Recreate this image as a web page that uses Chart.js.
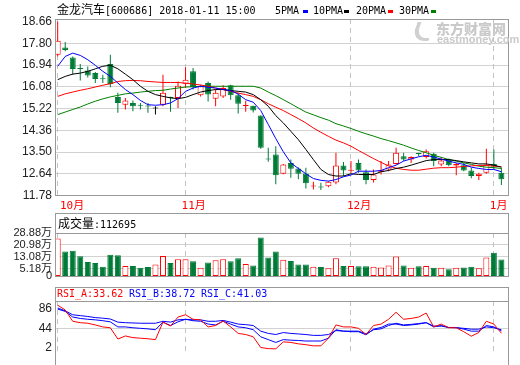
<!DOCTYPE html>
<html><head><meta charset="utf-8">
<title>金龙汽车[600686]</title>
<script src="https://cdn.jsdelivr.net/npm/chart.js@4/dist/chart.umd.min.js"></script>
<style>
html,body{margin:0;padding:0;background:#fff}
body{width:520px;height:365px;position:relative;overflow:hidden}
canvas{position:absolute;left:0}
.l{position:absolute;white-space:nowrap;line-height:14px;color:#000}
.cn{font-family:'Noto Sans CJK SC',sans-serif;font-size:12px}
.m{font-family:'DejaVu Sans Mono',monospace;font-size:10px}
.bx{position:absolute;width:5px;height:3px}
.wm{position:absolute;white-space:nowrap;color:#cacaca;font-weight:bold}
.logo{position:absolute;left:414px;top:22px;width:14px;height:16px;border-left:4px solid #d0d0d0;border-bottom:3px solid #d0d0d0;border-radius:0 0 0 14px;transform:skewX(-20deg)}
</style></head><body>
<canvas id="cMain" width="520" height="213" style="top:0px"></canvas>
<canvas id="cVol" width="520" height="74" style="top:212px"></canvas>
<canvas id="cRsi" width="520" height="79" style="top:286px"></canvas>

<div class="l" style="left:57px;top:2px"><span class="cn">金龙汽车</span><span class="m">[600686] 2018-01-11 15:00</span></div>
<div class="l m" style="left:275px;top:4px">5PMA</div><div class="bx" style="left:303px;top:10px;background:#0000ff"></div>
<div class="l m" style="left:313px;top:4px">10PMA</div><div class="bx" style="left:344px;top:10px;background:#000"></div>
<div class="l m" style="left:356px;top:4px">20PMA</div><div class="bx" style="left:388px;top:10px;background:#ff0000"></div>
<div class="l m" style="left:399px;top:4px">30PMA</div><div class="bx" style="left:431px;top:10px;background:#008000"></div>
<div class="logo"></div>
<div class="wm" style="left:436px;top:20px;font-family:'Noto Sans CJK SC';font-size:14px;line-height:16px;font-weight:900">东方财富网</div>
<div class="wm" style="left:437px;top:34px;font-family:'Liberation Sans';font-size:11px;line-height:11px">eastmoney.com</div>

<div class="l" style="left:58px;top:216px"><span class="cn">成交量</span><span class="m">:112695</span></div>
<div class="l m" style="left:57px;top:287px;color:#ff0000">RSI_A:33.62</div>
<div class="l m" style="left:129px;top:287px;color:#0000ff">RSI_B:38.72</div>
<div class="l m" style="left:201px;top:287px;color:#0000ff">RSI_C:41.03</div>

<script>
// ---------- data ----------
const opens  = [17.35,17.63,17.24,16.80,16.72,16.62,16.40,16.98,15.68,15.37, 15.44,15.35,15.32,15.22,15.37,15.69,15.64,16.20,16.69,15.74, 16.23,15.61,15.70,16.14,15.74,15.32,15.33,14.94,13.21,13.40, 12.64,13.07,12.85,12.65,12.14,12.12,12.15,12.29,12.97,12.76, 13.07,12.70,12.39,12.72,12.81,13.03,13.33,13.20,13.44,13.30, 13.43,13.01,13.20,12.97,12.98,12.77,12.55,12.68,13.03,12.68];
const highs  = [18.66,17.85,17.28,16.98,16.88,16.66,16.56,17.35,15.84,15.64, 15.54,15.44,15.44,15.31,16.56,15.69,16.29,16.85,16.82,16.16, 16.29,15.97,16.14,16.16,15.84,15.53,15.33,14.94,13.67,13.73, 13.03,13.20,12.90,12.88,12.32,12.28,12.34,13.47,13.10,13.14, 13.20,12.81,12.81,13.14,13.14,13.67,13.47,13.33,13.47,13.60, 13.47,13.30,13.24,13.07,13.07,12.88,12.68,13.63,13.60,12.88];
const lows   = [17.28,17.48,16.56,16.33,16.45,16.23,16.23,16.06,15.05,15.18, 15.11,15.18,15.05,14.98,15.31,15.09,15.24,16.03,15.97,15.70, 15.50,15.31,15.64,15.57,15.02,15.09,15.06,13.63,13.11,12.22, 12.62,12.48,12.42,12.06,12.02,12.00,12.11,12.22,12.55,12.68, 12.68,12.22,12.29,12.61,12.74,13.01,13.14,13.07,13.33,13.24, 12.94,12.94,12.94,12.58,12.74,12.46,12.39,12.64,12.81,12.20];
const closes = [17.90,17.53,16.78,16.78,16.53,16.39,16.38,16.19,15.44,15.54, 15.31,15.33,15.30,15.22,15.84,15.64,16.12,16.36,16.07,16.10, 15.77,15.84,16.03,15.74,15.41,15.34,15.14,13.67,13.20,12.58, 13.01,12.84,12.64,12.26,12.16,12.10,12.32,12.97,12.77,12.78, 12.77,12.39,12.61,12.78,13.01,13.47,13.20,13.30,13.42,13.53, 13.14,13.16,12.98,13.03,12.77,12.55,12.64,13.01,12.93,12.42];

const ma5  = [16.89,17.28,17.41,17.32,17.15,16.93,16.69,16.49,16.23,15.97, 15.77,15.54,15.37,15.35,15.37,15.44,15.61,15.90,16.03,16.10, 16.06,16.03,15.97,15.93,15.79,15.57,15.47,15.14,14.59,14.03, 13.51,13.07,12.85,12.64,12.45,12.38,12.35,12.41,12.52,12.59, 12.74,12.74,12.74,12.77,12.88,12.98,13.14,13.23,13.31,13.37, 13.30,13.22,13.14,13.07,13.01,12.90,12.85,12.81,12.81,12.72];
const ma10 = [16.36,16.49,16.58,16.62,16.69,16.79,16.89,16.93,16.79,16.58, 16.36,16.10,15.90,15.77,15.70,15.64,15.61,15.66,15.77,15.87, 15.93,15.97,15.97,15.93,15.90,15.87,15.77,15.57,15.31,14.94, 14.65,14.32,13.99,13.60,13.20,12.81,12.61,12.55,12.55,12.64, 12.61,12.61,12.61,12.72,12.77,12.85,12.90,12.98,13.07,13.16, 13.20,13.20,13.20,13.16,13.11,13.07,13.03,13.03,12.98,12.90];
const ma20 = [15.70,15.80,15.87,15.94,16.00,16.07,16.14,16.20,16.29,16.32, 16.33,16.32,16.29,16.27,16.25,16.25,16.25,16.22,16.19,16.15, 16.10,16.03,15.97,15.90,15.83,15.77,15.70,15.57,15.41,15.27, 15.14,14.98,14.82,14.65,14.45,14.28,14.12,13.97,13.86,13.73, 13.56,13.40,13.24,13.09,12.95,12.86,12.81,12.78,12.78,12.82, 12.86,12.88,12.88,12.90,12.93,12.95,12.97,12.97,12.94,12.92];
const ma30 = [14.98,15.08,15.18,15.28,15.40,15.51,15.60,15.68,15.74,15.80, 15.83,15.87,15.90,15.93,15.94,15.99,16.03,16.07,16.08,16.10, 16.10,16.10,16.10,16.10,16.10,16.10,16.10,16.03,15.87,15.73, 15.57,15.41,15.24,15.08,14.97,14.86,14.76,14.62,14.53,14.43, 14.32,14.22,14.13,14.03,13.95,13.86,13.77,13.66,13.56,13.47, 13.37,13.29,13.20,13.14,13.07,13.01,12.94,12.90,12.88,12.85];

// volume, in 万
const volumes = [25.3,16.5,17.1,13.4,9.5,8.9,6.5,14.4,14.0,6.9, 6.9,5.8,6.3,7.9,13.6,8.9,11.4,11.4,10.0,5.8, 9.3,10.8,11.4,10.0,12.0,8.3,7.3,25.9,12.6,16.5, 11.0,10.3,7.9,7.9,6.5,6.3,5.4,12.0,6.9,6.9, 6.7,6.7,6.5,6.0,7.3,13.2,7.3,5.8,6.7,6.9, 5.8,5.8,4.8,5.8,6.0,6.5,5.4,12.6,15.7,11.27];

const rsiA = [93.2,83,59,56,54.8,51.2,47,45.2,21.2,27.8, 24.2,23,21.8,20,57.2,48.8,68,72.8,63.2,62, 47,50,59.6,47,33.2,30.8,26,3.2,0.8,0.4, 15.2,14,11,9.2,6.8,6.8,23,51.2,47,47, 44,30.8,50,53,63.2,78.2,63.2,65,68,76.4, 47,53,45.2,45.2,36.8,27.2,35,59,53,33.62];
const rsiB = [84.8,80,68,65,63.2,62,60.2,57.8,47,47, 45.2,44,42.8,41,57.2,50,57.8,63.2,60.2,59, 53,51.2,59,53,47,45.2,41,26,20,14, 20,18.8,18.2,17,17,17,23,41,38,36.8, 36.8,30.2,42.2,45.8,53,53,50,51.2,53,56, 47,50,45.8,45.8,42.2,38,38,50,47,38.72];
const rsiC = [87.2,81.2,72.8,71,69.2,66.8,65.6,63.8,57.2,56, 55.4,54.8,54.8,54.8,59,57.2,62,63.2,62,62, 59,59,60.8,57.2,53,51.8,50,38,33.2,30.8, 35,33.2,32,30.8,29,29,30.8,39.2,38,38, 38,32,41,42.8,50,54.8,51.2,52.4,54.2,56, 48.8,48.8,45.8,45.2,44,42.2,42.2,47,45.2,41.03];

const priceTicks = [11.78,12.64,13.50,14.36,15.22,16.08,16.94,17.80,18.66];
const volTicks = [0,5.18,13.08,20.98,28.88];
const rsiTicks = [2,44,86];
const monthIdx = [0,17,39,58];
const monthLabels = ['10月','11月','12月','1月'];

// ---------- styling ----------
const RED='#ff0000', GREEN='#007a37', BLACK='#000000', BLUE='#0000ff', MAGREEN='#008000';
const FRAME='#999999', GRID='#d2d2d2', DASH='#c4c4c4';
const X_MIN=-0.359, X_MAX=59.88;
const idx = closes.map((_, i) => i);
const candleColor = idx.map(i => closes[i] > opens[i] ? RED : (closes[i] < opens[i] ? GREEN : BLACK));
const bodyFill = idx.map(i => closes[i] > opens[i] ? '#ffffff' : candleColor[i]);
const volColor = idx.map(i => closes[i] >= opens[i] ? RED : GREEN);
const volFill = idx.map(i => closes[i] >= opens[i] ? '#ffffff' : GREEN);
const pts = arr => arr.map((v, i) => ({x: i, y: v}));

Chart.defaults.animation = false;
Chart.defaults.responsive = false;
Chart.defaults.events = [];
Chart.defaults.plugins.legend.display = false;
Chart.defaults.plugins.tooltip.enabled = false;

function xScale() { return {type: 'linear', min: X_MIN, max: X_MAX, offset: false, display: false, grid: {offset: false}}; }
function yScale(min, max, ticks, gridVals, fmt, size) {
  return {
    min, max,
    afterFit(s) { s.width = 55; },
    afterBuildTicks(s) { s.ticks = ticks.map(v => ({value: v})); },
    ticks: {autoSkip: false, padding: 3, color: '#222',
      font: {family: "'Liberation Sans','Noto Sans CJK SC',sans-serif", size: size},
      callback: fmt},
    grid: {drawTicks: false, lineWidth: 1,
      color: c => (c.tick && gridVals.indexOf(c.tick.value) >= 0) ? GRID : 'rgba(0,0,0,0)'},
    border: {display: false}
  };
}
function hline(ctx, x1, x2, y) { ctx.beginPath(); ctx.moveTo(x1, y); ctx.lineTo(x2, y); ctx.stroke(); }
function vline(ctx, x, y1, y2) { ctx.beginPath(); ctx.moveTo(x, y1); ctx.lineTo(x, y2); ctx.stroke(); }
function makePlugin(opt) {
  return {
    id: 'frame_' + opt.name,
    beforeDatasetsDraw(chart) {
      const {ctx, chartArea: a, scales: {x}} = chart;
      ctx.save(); ctx.strokeStyle = DASH; ctx.lineWidth = 1; ctx.setLineDash([5, 4]);
      monthIdx.forEach(i => { const px = Math.floor(x.getPixelForValue(i)) + 0.5; vline(ctx, px, a.top, a.bottom); });
      ctx.restore();
    },
    afterDatasetsDraw(chart) {
      const {ctx, chartArea: a, scales: {x}} = chart;
      const L = Math.floor(a.left) + 0.5, R = Math.floor(a.right) + 0.5;
      const T = Math.floor(a.top) + 0.5, B = Math.floor(a.bottom) + 0.5;
      ctx.save(); ctx.strokeStyle = FRAME; ctx.lineWidth = 1;
      const top0 = opt.headerTop != null ? opt.headerTop : T;
      vline(ctx, L, top0 - 0.5, opt.bottom ? B + 0.5 : chart.height);
      vline(ctx, R, top0 - 0.5, opt.bottom ? B + 0.5 : chart.height);
      if (opt.headerTop != null) hline(ctx, L, R, opt.headerTop);
      hline(ctx, L, R, T);
      if (opt.bottom) hline(ctx, L, R, B);
      if (opt.months) {
        ctx.fillStyle = RED; ctx.textBaseline = 'middle'; ctx.textAlign = 'left';
        ctx.font = "11px 'DejaVu Sans Mono','Noto Sans CJK SC',monospace";
        monthIdx.forEach((i, k) => {
          const px = Math.max(60, x.getPixelForValue(i) - 4);
          ctx.fillText(monthLabels[k], px, 206);
        });
      }
      ctx.restore();
    }
  };
}

// ---------- main price chart ----------
new Chart(document.getElementById('cMain'), {
  data: {datasets: [
    {type: 'line', data: pts(ma5), borderColor: BLUE, borderWidth: 1, pointRadius: 0, order: 0},
    {type: 'line', data: pts(ma10), borderColor: BLACK, borderWidth: 1, pointRadius: 0, order: 1},
    {type: 'line', data: pts(ma20), borderColor: RED, borderWidth: 1, pointRadius: 0, order: 2},
    {type: 'line', data: pts(ma30), borderColor: MAGREEN, borderWidth: 1, pointRadius: 0, order: 3},
    {type: 'bar', data: idx.map(i => ({x: i, y: [opens[i], closes[i]]})), backgroundColor: bodyFill,
      borderColor: candleColor, borderWidth: 1, borderSkipped: false, barThickness: 6, minBarLength: 1,
      grouped: false, inflateAmount: 0, order: 10},
    {type: 'bar', data: idx.map(i => ({x: i, y: [lows[i], highs[i]]})), backgroundColor: candleColor,
      borderWidth: 0, barThickness: 1, grouped: false, inflateAmount: 0, order: 11}
  ]},
  options: {
    layout: {padding: {left: 0, right: 12, top: 19, bottom: 17.5}},
    scales: {x: xScale(),
      y: yScale(11.78, 18.76, priceTicks, priceTicks.slice(1, -1), v => v.toFixed(2), 12)}
  },
  plugins: [makePlugin({name: 'main', bottom: true, months: true})]
});

// ---------- volume chart ----------
new Chart(document.getElementById('cVol'), {
  data: {datasets: [
    {type: 'bar', data: pts(volumes), backgroundColor: volFill, borderColor: volColor, borderWidth: 1,
      borderSkipped: false, barThickness: 6, grouped: false, inflateAmount: 0}
  ]},
  options: {
    layout: {padding: {left: 0, right: 12, top: 21, bottom: 6}},
    scales: {x: xScale(),
      y: yScale(0, 28.88, volTicks, [5.18, 13.08, 20.98], v => v === 0 ? '0' : v.toFixed(2) + '万', 11)}
  },
  plugins: [makePlugin({name: 'vol', bottom: true, headerTop: 1.5})]
});

// ---------- RSI chart ----------
new Chart(document.getElementById('cRsi'), {
  data: {datasets: [
    {type: 'line', data: pts(rsiA), borderColor: RED, borderWidth: 1, pointRadius: 0, order: 0},
    {type: 'line', data: pts(rsiB), borderColor: BLUE, borderWidth: 1, pointRadius: 0, order: 1},
    {type: 'line', data: pts(rsiC), borderColor: BLUE, borderWidth: 1, pointRadius: 0, order: 2}
  ]},
  options: {
    layout: {padding: {left: 0, right: 12, top: 15, bottom: 0}},
    scales: {x: xScale(),
      y: yScale(-12.3, 102.1, rsiTicks, [44], v => String(v), 12)}
  },
  plugins: [makePlugin({name: 'rsi', bottom: false, headerTop: 1.5})]
});
</script>
</body></html>
